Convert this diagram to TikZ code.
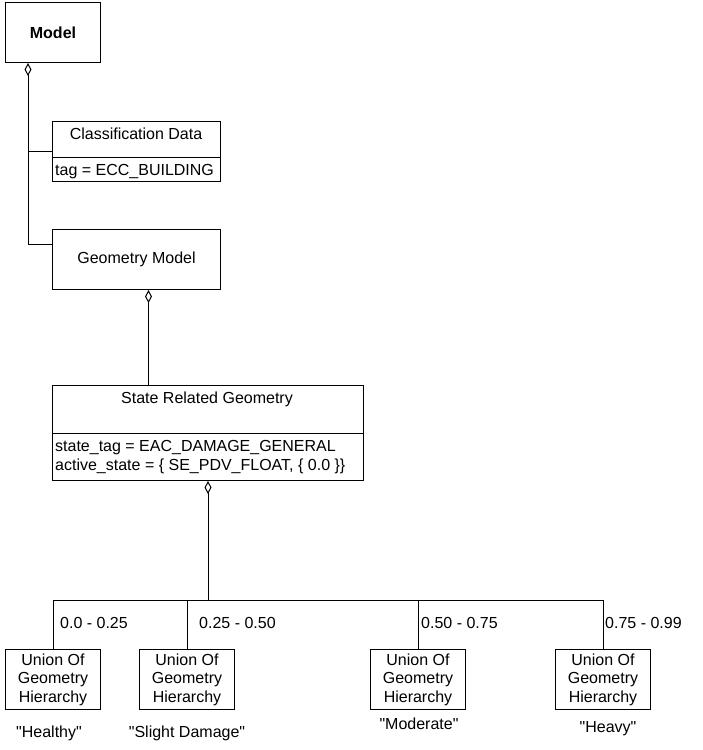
\documentclass[tikz,border=0pt]{standalone}
\usepackage{fontspec}
\setmainfont{Liberation Sans}
\usetikzlibrary{arrows.meta}
\tikzstyle{classbox}=[draw,line width=1pt,inner sep=0pt,anchor=north west]
\tikzstyle{union}=[classbox,minimum width=95pt,minimum height=60pt,align=center]
\tikzstyle{attr}=[anchor=base west,inner sep=0pt]
\tikzstyle{tagname}=[anchor=base,inner sep=0pt]
\tikzstyle{link}=[draw,line width=1pt]
\tikzstyle{aggr}=[link,{Diamond[open,length=13pt,width=7pt]}-]

\begin{document}
\begin{tikzpicture}[x=1pt,y=-1pt,font=\fontsize{16}{18.5}\selectfont]
\useasboundingbox (0,0) rectangle (702,750);

% First the classes
\node[classbox,minimum width=95pt,minimum height=60pt,font=\fontsize{16}{18.5}\selectfont\bfseries] (model) at (5,2) {Model};
\node[classbox,minimum width=168pt,minimum height=60pt] (classif) at (52,121) {};
\node (classifname) at (136,134) {Classification Data};
\node[attr] (classiftag) at (55,175) {tag = ECC\_BUILDING};
\draw[link] ([yshift=-36pt]classif.north west) -- ([yshift=-36pt]classif.north east);

\node[classbox,minimum width=168pt,minimum height=60pt] (geom) at (52,229) {Geometry Model};

\node[classbox,minimum width=311pt,minimum height=95pt] (state) at (52,385) {};
\node (statename) at (207,399) {State Related Geometry};
\draw[link] ([yshift=-48pt]state.north west) -- ([yshift=-48pt]state.north east);
\node[attr] (statetag) at (55,451) {state\_tag = EAC\_DAMAGE\_GENERAL};
\node[attr] (stateactive) at (55,470) {active\_state = \{ SE\_PDV\_FLOAT, \{ 0.0 \}\}};

\foreach \pos/\name in {{(5,649)/u1}, {(139,649)/u2}, {(370,649)/u3}, {(555,649)/u4}}
\node[union] (\name) at \pos {Union Of\\Geometry\\Hierarchy};

% Aggregations
\coordinate (modelagg) at ([xshift=23pt]model.south west);
\draw[aggr] (modelagg) |- ([yshift=-15pt]geom.north west);
\draw[link] (modelagg |- classif.west) -- (classif.west);

\draw[aggr] ([xshift=12pt]geom.south) -- ([xshift=12pt]geom.south |- state.north);

\coordinate (busline) at (0,600);
\coordinate (bus) at (state.south |- busline);
\draw[aggr] (state.south) -- (bus);
\draw[link] (u1.north) -- (u1.north |- bus) -- (u4.north |- bus) -- (u4.north);
\foreach \name in {u2,u3}
\draw[link] (\name.north) -- (\name.north |- bus);

% Ranges and state names
\foreach \pos/\name/\range in {{(60,628)/r1/{0.0 - 0.25}}, {(199,628)/r2/{0.25 - 0.50}},
                               {(421,628)/r3/{0.50 - 0.75}}, {(605,628)/r4/{0.75 - 0.99}}}
\node[attr] (\name) at \pos {\range};

\foreach \pos/\name/\state in {{(49,737)/s1/{Healthy}}, {(187,737)/s2/{Slight Damage}},
                               {(419,729)/s3/{Moderate}}, {(608,732)/s4/{Heavy}}}
\node[tagname] (\name) at \pos {\textquotedbl\state\textquotedbl};

\end{tikzpicture}
\end{document}
